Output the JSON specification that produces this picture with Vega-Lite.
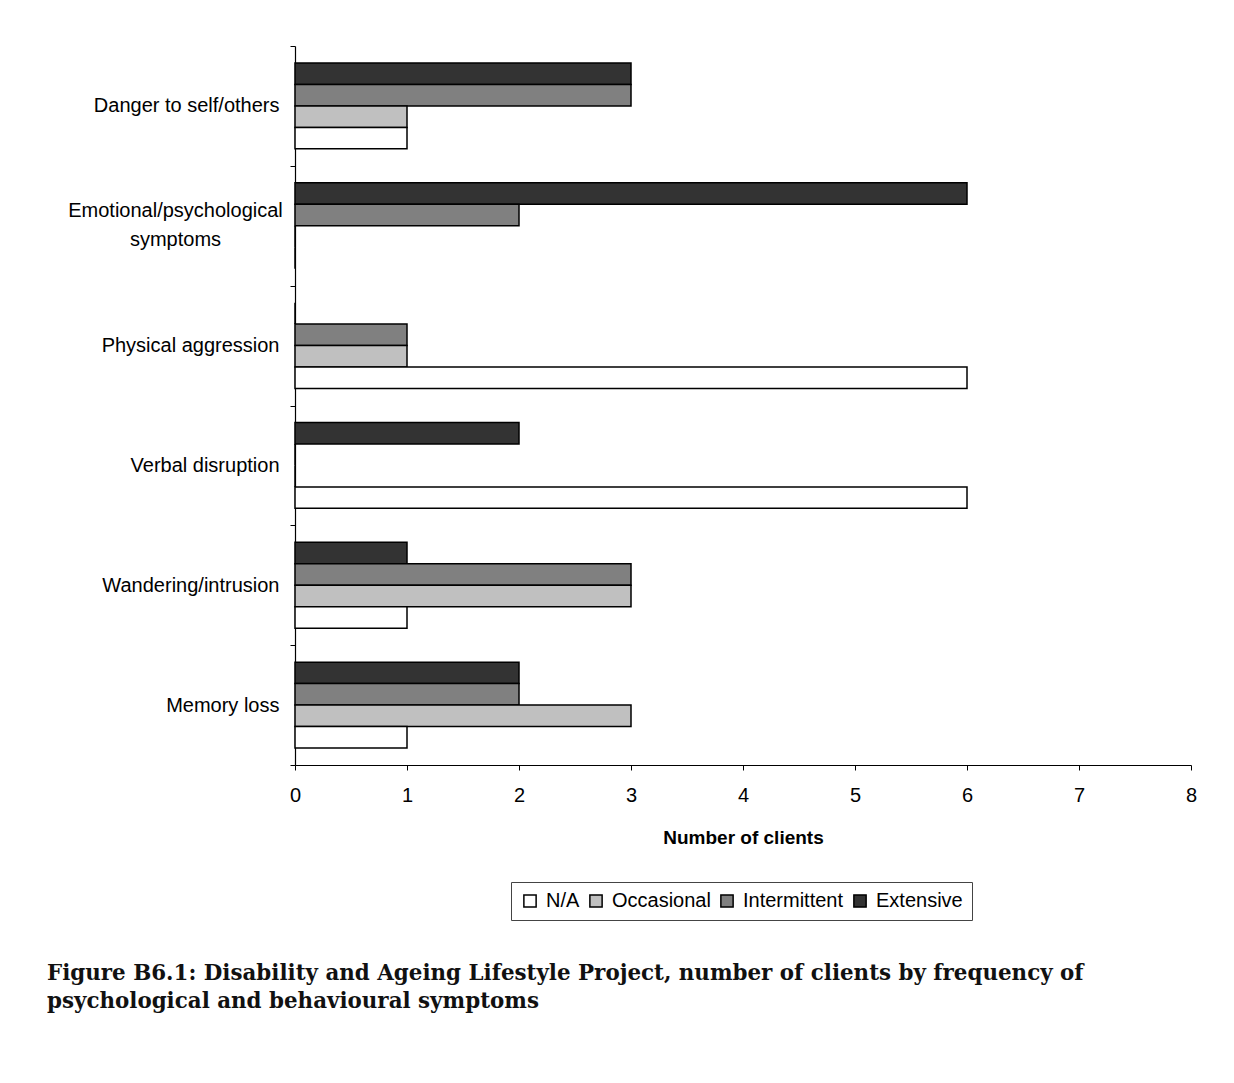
{
  "$schema": "https://vega.github.io/schema/vega-lite/v6.json",
  "autosize": {"type": "none"},
  "width": 896,
  "height": 719,
  "padding": {"left": 295, "top": 46, "right": 43, "bottom": 318},
  "background": "white",
  "title": {
    "text": [
      "Figure B6.1: Disability and Ageing Lifestyle Project, number of clients by frequency of",
      "psychological and behavioural symptoms"
    ],
    "orient": "bottom",
    "anchor": "start",
    "frame": "group",
    "dx": -248,
    "offset": 42,
    "font": "DejaVu Serif",
    "fontSize": 21.4,
    "fontWeight": "bold",
    "lineHeight": 28,
    "color": "#111111",
    "limit": 0
  },
  "data": {
    "values": [
      {"symptom": "Danger to self/others", "frequency": "Extensive", "clients": 3},
      {"symptom": "Danger to self/others", "frequency": "Intermittent", "clients": 3},
      {"symptom": "Danger to self/others", "frequency": "Occasional", "clients": 1},
      {"symptom": "Danger to self/others", "frequency": "N/A", "clients": 1},
      {"symptom": "Emotional/psychological symptoms", "frequency": "Extensive", "clients": 6},
      {"symptom": "Emotional/psychological symptoms", "frequency": "Intermittent", "clients": 2},
      {"symptom": "Emotional/psychological symptoms", "frequency": "Occasional", "clients": 0},
      {"symptom": "Emotional/psychological symptoms", "frequency": "N/A", "clients": 0},
      {"symptom": "Physical aggression", "frequency": "Extensive", "clients": 0},
      {"symptom": "Physical aggression", "frequency": "Intermittent", "clients": 1},
      {"symptom": "Physical aggression", "frequency": "Occasional", "clients": 1},
      {"symptom": "Physical aggression", "frequency": "N/A", "clients": 6},
      {"symptom": "Verbal disruption", "frequency": "Extensive", "clients": 2},
      {"symptom": "Verbal disruption", "frequency": "Intermittent", "clients": 0},
      {"symptom": "Verbal disruption", "frequency": "Occasional", "clients": 0},
      {"symptom": "Verbal disruption", "frequency": "N/A", "clients": 6},
      {"symptom": "Wandering/intrusion", "frequency": "Extensive", "clients": 1},
      {"symptom": "Wandering/intrusion", "frequency": "Intermittent", "clients": 3},
      {"symptom": "Wandering/intrusion", "frequency": "Occasional", "clients": 3},
      {"symptom": "Wandering/intrusion", "frequency": "N/A", "clients": 1},
      {"symptom": "Memory loss", "frequency": "Extensive", "clients": 2},
      {"symptom": "Memory loss", "frequency": "Intermittent", "clients": 2},
      {"symptom": "Memory loss", "frequency": "Occasional", "clients": 3},
      {"symptom": "Memory loss", "frequency": "N/A", "clients": 1}
    ]
  },
  "mark": {"type": "bar", "stroke": "black", "strokeWidth": 1.5, "opacity": 1},
  "encoding": {
    "y": {
      "field": "symptom",
      "type": "nominal",
      "sort": [
        "Danger to self/others",
        "Emotional/psychological symptoms",
        "Physical aggression",
        "Verbal disruption",
        "Wandering/intrusion",
        "Memory loss"
      ],
      "scale": {"paddingInner": 0, "paddingOuter": 0},
      "axis": {
        "title": null,
        "tickBand": "extent",
        "tickSize": 5,
        "tickColor": "black",
        "domainColor": "black",
        "domainWidth": 1.2,
        "labelFont": "Liberation Sans",
        "labelFontSize": 20,
        "labelColor": "black",
        "labelLimit": 0,
        "labelLineHeight": 29,
        "labelAlign": {
          "condition": {"test": "datum.value === 'Emotional/psychological symptoms'", "value": "center"},
          "value": "right"
        },
        "labelPadding": {
          "condition": {"test": "datum.value === 'Emotional/psychological symptoms'", "value": 115},
          "value": 11
        },
        "labelOffset": {
          "condition": {"test": "datum.value === 'Emotional/psychological symptoms'", "value": -15},
          "value": 0
        },
        "labelExpr": "datum.value === 'Emotional/psychological symptoms' ? ['Emotional/psychological', 'symptoms'] : datum.value"
      }
    },
    "yOffset": {
      "field": "frequency",
      "type": "nominal",
      "sort": ["Extensive", "Intermittent", "Occasional", "N/A"],
      "scale": {"paddingInner": 0, "paddingOuter": 0.79}
    },
    "x": {
      "field": "clients",
      "type": "quantitative",
      "scale": {"domain": [0, 8], "nice": false},
      "axis": {
        "title": "Number of clients",
        "values": [0, 1, 2, 3, 4, 5, 6, 7, 8],
        "grid": false,
        "tickSize": 5,
        "tickColor": "black",
        "domainColor": "black",
        "domainWidth": 1.2,
        "labelFont": "Liberation Sans",
        "labelFontSize": 20,
        "labelColor": "black",
        "labelFlush": false,
        "labelPadding": 15,
        "titleFont": "Liberation Sans",
        "titleFontSize": 19,
        "titleFontWeight": "bold",
        "titleColor": "black",
        "titlePadding": 23
      }
    },
    "color": {
      "field": "frequency",
      "type": "nominal",
      "scale": {
        "domain": ["N/A", "Occasional", "Intermittent", "Extensive"],
        "range": ["#ffffff", "#c0c0c0", "#808080", "#333333"]
      },
      "legend": {
        "title": null,
        "orient": "none",
        "direction": "horizontal",
        "legendX": 216,
        "legendY": 836,
        "strokeColor": "#444444",
        "padding": 9,
        "symbolType": "square",
        "symbolSize": 150,
        "symbolStrokeColor": "black",
        "symbolStrokeWidth": 1.5,
        "symbolOpacity": 1,
        "labelFont": "Liberation Sans",
        "labelFontSize": 20,
        "labelColor": "black",
        "labelOffset": 6,
        "columnPadding": 6
      }
    }
  },
  "config": {
    "view": {"stroke": null}
  }
}
